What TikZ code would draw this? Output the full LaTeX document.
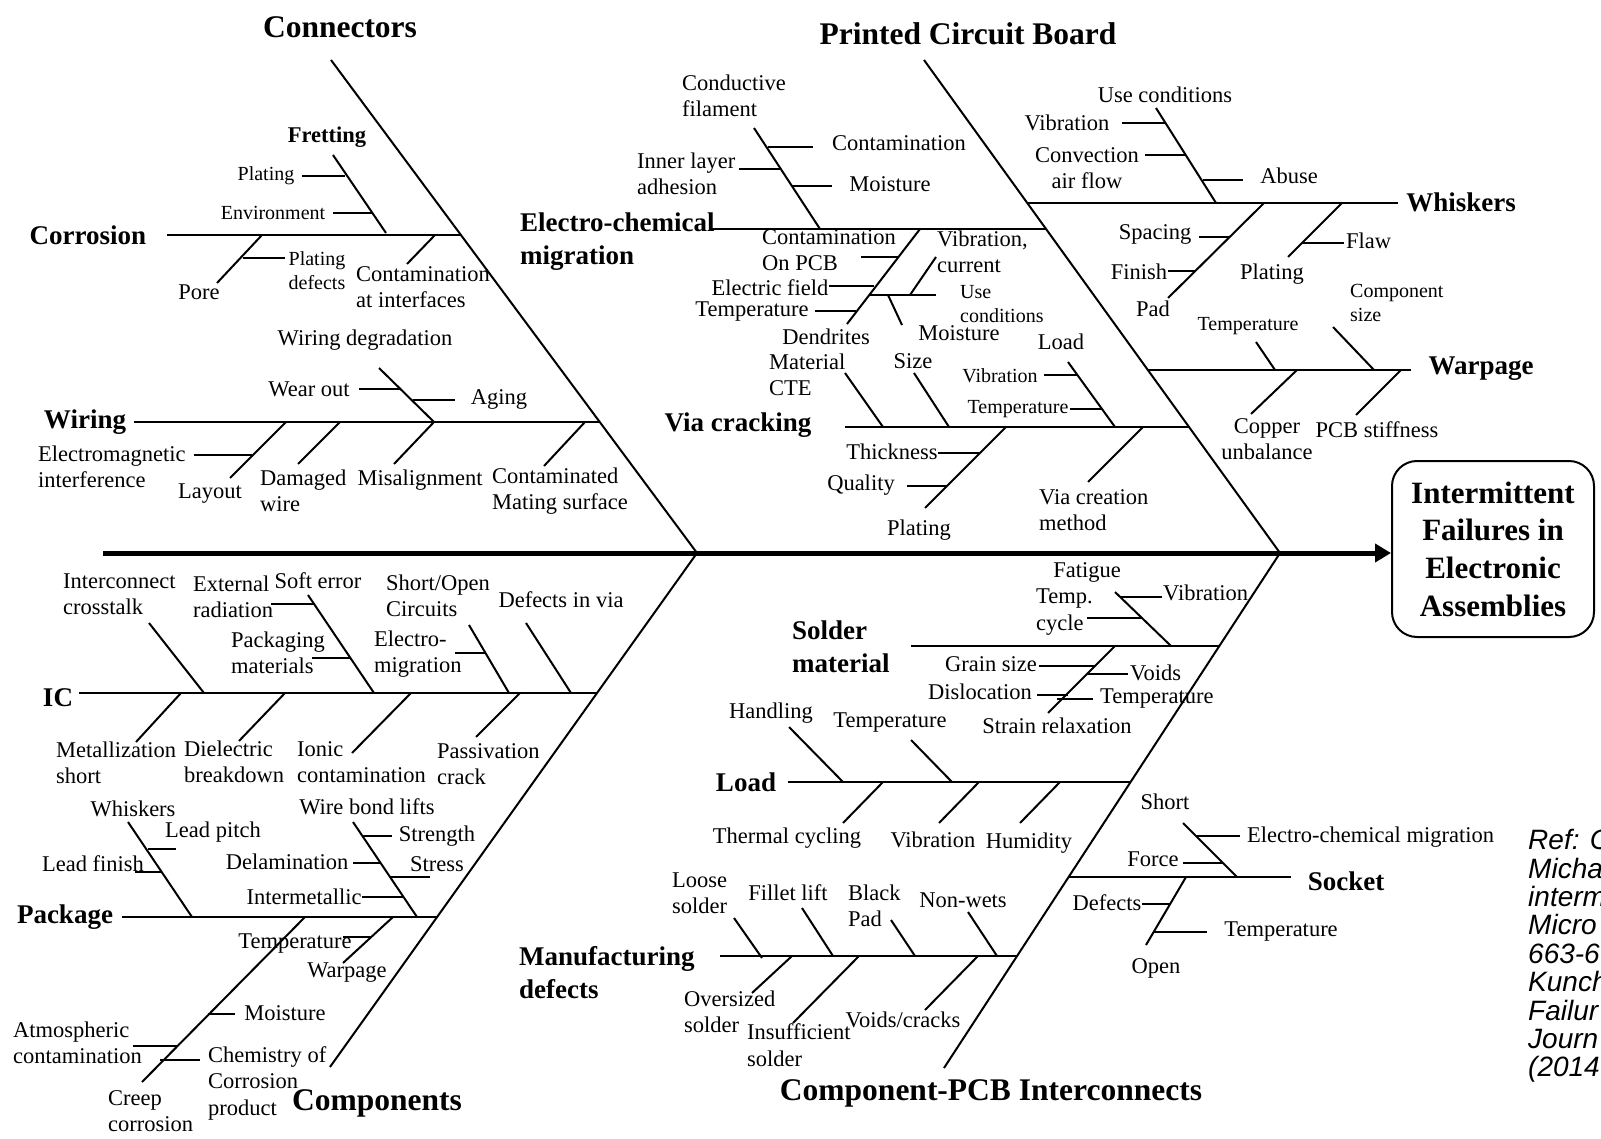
\documentclass[tikz,border=0pt]{standalone}
\usepackage{fontspec}
\setmainfont{Liberation Serif}
\newfontfamily\reffont{Liberation Sans}
\usetikzlibrary{arrows.meta}

\begin{document}
\begin{tikzpicture}[x=1pt,y=-1pt,
  bone/.style={line width=2pt},
  spine/.style={line width=5pt,-{Triangle[length=16pt,width=18pt]}},
  lbl/.style={inner sep=0pt,font=\fontsize{22.5}{26.5}\selectfont},
  sml/.style={inner sep=0pt,font=\fontsize{20}{24}\selectfont},
  grp/.style={inner sep=0pt,font=\fontsize{27}{33}\selectfont\bfseries},
  cat/.style={inner sep=0pt,font=\fontsize{31.5}{36}\selectfont\bfseries},
  effect/.style={draw,line width=2pt,rounded corners=25pt,minimum width=202pt,minimum height=176pt,align=center,font=\fontsize{31}{37.7}\selectfont\bfseries},
  refnote/.style={inner sep=0pt,align=left,font=\fontsize{28}{28.4}\selectfont\reffont\itshape}
]
\useasboundingbox (0,0) rectangle (1601,1139);
\clip (0,0) rectangle (1601,1139);
\coordinate (tail) at (103,553);
\coordinate (hubl) at (697,553);
\coordinate (hubr) at (1280,553);
\node[effect] (effect) at (1493,549) {Intermittent\\Failures in\\Electronic\\Assemblies};
\draw[spine] (tail) -- (tail -| effect.west);
\draw[bone] (331,60) -- (hubl) -- (330,1067);
\draw[bone] (924,60) -- (hubr) -- (944,1068);
\node[cat] (conn) at (340,27) {Connectors};
\node[cat] (pcb) at (968,34) {Printed Circuit Board};
\node[cat] (comp) at (377,1103) {Components};
\node[cat] (cpi) at (991,1093) {Component-PCB Interconnects};

\draw[bone] (167,235) -- (461,235);
\node[grp] (corr) at (88,235) {Corrosion};
\draw[bone] (333,155) -- (386,233);
\node[grp,font=\fontsize{22.5}{26}\selectfont\bfseries] (fret) at (327,137) {Fretting};
\draw[bone] (302,176) -- (345,176);
\node[sml] (fplat) at (266,176) {Plating};
\draw[bone] (333,213) -- (373,213);
\node[sml] (fenv) at (273,213) {Environment};
\draw[bone] (262,235) -- (217,283);
\node[lbl] (pore) at (199,292) {Pore};
\draw[bone] (243,258) -- (285,258);
\node[sml,align=center] (pdef) at (317,271) {Plating\\defects};
\draw[bone] (435,235) -- (407,264);
\node[lbl,anchor=west,align=left] (cint) at (356,287) {Contamination\\at interfaces};

\draw[bone] (134,422) -- (600,422);
\node[grp] (wiring) at (85,422) {Wiring};
\draw[bone] (379,368) -- (434,422);
\node[lbl] (wdeg) at (365,340) {Wiring degradation};
\draw[bone] (359,389) -- (400,389);
\node[lbl] (wear) at (309,389) {Wear out};
\draw[bone] (413,400) -- (455,400);
\node[lbl] (aging) at (499,399) {Aging};
\draw[bone] (286,422) -- (230,478);
\draw[bone] (194,455) -- (252,455);
\node[lbl,anchor=west,align=left] (emi) at (38,467) {Electromagnetic\\interference};
\node[lbl] (layout) at (210,494) {Layout};
\draw[bone] (340,422) -- (298,464);
\node[lbl,anchor=west,align=left] (dwire) at (260,491) {Damaged\\wire};
\draw[bone] (434,422) -- (394,464);
\node[lbl] (misal) at (420,480) {Misalignment};
\draw[bone] (585,422) -- (544,466);
\node[lbl,anchor=west,align=left] (cmate) at (492,491) {Contaminated\\Mating surface};

\draw[bone] (79,693) -- (597,693);
\node[grp] (ic) at (58,698) {IC};
\draw[bone] (149,623) -- (204,693);
\node[lbl,anchor=west,align=left] (xtalk) at (63,594) {Interconnect\\crosstalk};
\draw[bone] (308,595) -- (374,693);
\node[lbl] (soft) at (318,581) {Soft error};
\draw[bone] (271,604) -- (314,604);
\node[lbl,anchor=west,align=left] (extrad) at (193,597) {External\\radiation};
\draw[bone] (312,658) -- (350,658);
\node[lbl,anchor=west,align=left] (pkgmat) at (231,653) {Packaging\\materials};
\draw[bone] (469,625) -- (509,693);
\node[lbl,anchor=west,align=left] (shopen) at (386,596) {Short/Open\\Circuits};
\draw[bone] (455,653) -- (485,653);
\node[lbl,anchor=west,align=left] (emig) at (374,654) {Electro-\\migration};
\draw[bone] (526,623) -- (571,693);
\node[lbl] (dvia) at (561,600) {Defects in via};
\draw[bone] (181,693) -- (136,742);
\node[lbl,anchor=west,align=left] (metal) at (56,763) {Metallization\\short};
\draw[bone] (285,693) -- (239,741);
\node[lbl,anchor=west,align=left] (dielec) at (184,762) {Dielectric\\breakdown};
\draw[bone] (411,693) -- (352,753);
\node[lbl,anchor=west,align=left] (ionic) at (297,762) {Ionic\\contamination};
\draw[bone] (520,693) -- (476,737);
\node[lbl,anchor=west,align=left] (passiv) at (437,764) {Passivation\\crack};

\draw[bone] (122,917) -- (437,917);
\node[grp] (pkg) at (65,917) {Package};
\draw[bone] (128,822) -- (192,917);
\node[lbl] (pwhisk) at (133,809) {Whiskers};
\draw[bone] (148,849) -- (176,849);
\node[lbl] (lpitch) at (213,832) {Lead pitch};
\draw[bone] (135,872) -- (162,872);
\node[lbl] (lfinish) at (93,864) {Lead finish};
\draw[bone] (353,822) -- (417,917);
\node[lbl] (wbond) at (367,807) {Wire bond lifts};
\draw[bone] (363,836) -- (392,836);
\node[lbl] (strength) at (437,836) {Strength};
\draw[bone] (353,863) -- (381,863);
\node[lbl] (delam) at (287,862) {Delamination};
\draw[bone] (390,877) -- (430,877);
\node[lbl] (stress) at (437,864) {Stress};
\draw[bone] (362,897) -- (403,897);
\node[lbl] (imet) at (304,897) {Intermetallic};
\draw[bone] (393,917) -- (343,963);
\node[lbl] (pwarp) at (347,973) {Warpage};
\draw[bone] (343,937) -- (371,937);
\node[lbl] (ptemp) at (295,944) {Temperature};
\draw[bone] (305,917) -- (142,1082);
\node[lbl,anchor=west,align=left] (creep) at (108,1111) {Creep\\corrosion};
\draw[bone] (208,1014) -- (235,1014);
\node[lbl] (pmoist) at (285,1013) {Moisture};
\draw[bone] (133,1046) -- (178,1046);
\node[lbl,anchor=west,align=left] (atmos) at (13,1043) {Atmospheric\\contamination};
\draw[bone] (160,1060) -- (200,1060);
\node[lbl,anchor=west,align=left] (chem) at (208,1083) {Chemistry of\\Corrosion\\product};

\draw[bone] (711,229) -- (1046,229);
\node[grp,anchor=west,align=left] (ecm) at (520,242) {Electro-chemical\\migration};
\draw[bone] (754,128) -- (820,229);
\node[lbl,anchor=west,align=left] (cfil) at (682,96) {Conductive\\filament};
\draw[bone] (768,147) -- (813,147);
\node[lbl] (econt) at (899,143) {Contamination};
\draw[bone] (739,169) -- (781,169);
\node[lbl,anchor=west,align=left] (inner) at (637,174) {Inner layer\\adhesion};
\draw[bone] (792,186) -- (832,186);
\node[lbl] (emoist) at (890,184) {Moisture};
\draw[bone] (920,229) -- (847,324);
\node[lbl] (dendr) at (826,337) {Dendrites};
\draw[bone] (861,257) -- (898,257);
\node[lbl,anchor=west,align=left] (cpcb) at (762,250) {Contamination\\On PCB};
\draw[bone] (829,286) -- (874,286);
\node[lbl] (efield) at (770,288) {Electric field};
\draw[bone] (815,311) -- (856,311);
\node[lbl] (etemp) at (752,312) {Temperature};
\draw[bone] (869,295) -- (936,295);
\node[sml,anchor=west,align=left] (euse) at (960,304) {Use\\conditions};
\draw[bone] (936,257) -- (910,295);
\node[lbl,anchor=west,align=left] (vibcur) at (937,252) {Vibration,\\current};
\draw[bone] (888,295) -- (902,325);
\node[lbl] (emoist2) at (959,333) {Moisture};

\draw[bone] (845,427) -- (1190,427);
\node[grp] (via) at (738,425) {Via cracking};
\draw[bone] (845,373) -- (883,427);
\node[lbl,anchor=west,align=left] (mcte) at (769,375) {Material\\CTE};
\draw[bone] (914,373) -- (949,427);
\node[lbl] (vsize) at (913,361) {Size};
\draw[bone] (1068,362) -- (1115,427);
\node[lbl] (vload) at (1061,342) {Load};
\draw[bone] (1044,375) -- (1077,375);
\node[sml] (vvib) at (1000,376) {Vibration};
\draw[bone] (1070,409) -- (1102,409);
\node[sml] (vtemp) at (1018,409) {Temperature};
\draw[bone] (1006,427) -- (925,508);
\node[lbl] (vplat) at (919,530) {Plating};
\draw[bone] (938,453) -- (980,453);
\node[lbl] (thick) at (892,452) {Thickness};
\draw[bone] (907,486) -- (947,486);
\node[lbl] (qual) at (861,485) {Quality};
\draw[bone] (1143,427) -- (1088,482);
\node[lbl,anchor=west,align=left] (vcreat) at (1039,510) {Via creation\\method};

\draw[bone] (1027,203) -- (1398,203);
\node[grp] (whisk) at (1461,202) {Whiskers};
\draw[bone] (1156,108) -- (1216,203);
\node[lbl] (wuse) at (1165,95) {Use conditions};
\draw[bone] (1122,123) -- (1165,123);
\node[lbl] (wvib) at (1067,123) {Vibration};
\draw[bone] (1145,155) -- (1186,155);
\node[lbl,align=center] (conv) at (1087,168) {Convection\\air flow};
\draw[bone] (1203,180) -- (1243,180);
\node[lbl] (abuse) at (1289,176) {Abuse};
\draw[bone] (1264,203) -- (1168,298);
\node[lbl] (pad) at (1153,309) {Pad};
\draw[bone] (1199,237) -- (1229,237);
\node[lbl] (spacing) at (1155,234) {Spacing};
\draw[bone] (1168,271) -- (1196,271);
\node[lbl] (finish) at (1139,272) {Finish};
\draw[bone] (1342,203) -- (1288,257);
\node[lbl] (wplat) at (1272,274) {Plating};
\draw[bone] (1302,243) -- (1344,243);
\node[lbl,anchor=west] (flaw) at (1346,241) {Flaw};

\draw[bone] (1148,370) -- (1411,370);
\node[grp] (warp) at (1481,369) {Warpage};
\draw[bone] (1256,342) -- (1275,370);
\node[sml] (wtemp) at (1248,326) {Temperature};
\draw[bone] (1333,327) -- (1374,370);
\node[sml,anchor=west,align=left] (csize) at (1350,303) {Component\\size};
\draw[bone] (1297,370) -- (1251,414);
\node[lbl,align=center] (copper) at (1267,439) {Copper\\unbalance};
\draw[bone] (1401,370) -- (1356,415);
\node[lbl] (stiff) at (1377,430) {PCB stiffness};

\draw[bone] (911,646) -- (1219,646);
\node[grp,anchor=west,align=left] (solder) at (792,647) {Solder\\material};
\draw[bone] (1115,592) -- (1171,646);
\node[lbl] (fatig) at (1087,572) {Fatigue};
\draw[bone] (1120,597) -- (1162,597);
\node[lbl,anchor=west] (svib) at (1163,593) {Vibration};
\draw[bone] (1087,618) -- (1142,618);
\node[lbl,anchor=west,align=left] (tcyc) at (1036,612) {Temp.\\cycle};
\draw[bone] (1115,646) -- (1048,713);
\node[lbl] (strain) at (1057,726) {Strain relaxation};
\draw[bone] (1039,666) -- (1095,666);
\node[lbl] (grain) at (991,664) {Grain size};
\draw[bone] (1087,674) -- (1128,674);
\node[lbl,anchor=west] (voids) at (1130,673) {Voids};
\draw[bone] (1037,695) -- (1068,695);
\node[lbl] (disloc) at (980,692) {Dislocation};
\draw[bone] (1057,699) -- (1093,699);
\node[lbl,anchor=west] (stemp) at (1100,699) {Temperature};

\draw[bone] (788,782) -- (1131,782);
\node[grp] (load) at (746,782) {Load};
\draw[bone] (789,727) -- (843,782);
\node[lbl] (handl) at (771,713) {Handling};
\draw[bone] (911,740) -- (952,782);
\node[lbl] (ltemp) at (890,723) {Temperature};
\draw[bone] (883,782) -- (843,823);
\node[lbl] (thcyc) at (787,838) {Thermal cycling};
\draw[bone] (979,782) -- (939,823);
\node[lbl] (lvib) at (933,840) {Vibration};
\draw[bone] (1060,782) -- (1020,823);
\node[lbl] (humid) at (1029,843) {Humidity};

\draw[bone] (720,956) -- (1017,956);
\node[grp,anchor=west,align=left] (mfg) at (519,973) {Manufacturing\\defects};
\draw[bone] (734,918) -- (762,958);
\node[lbl,anchor=west,align=left] (loose) at (672,893) {Loose\\solder};
\draw[bone] (802,908) -- (833,956);
\node[lbl] (fillet) at (788,893) {Fillet lift};
\draw[bone] (891,920) -- (915,956);
\node[lbl,anchor=west,align=left] (bpad) at (848,906) {Black\\Pad};
\draw[bone] (968,912) -- (997,956);
\node[lbl] (nonwet) at (963,900) {Non-wets};
\draw[bone] (792,956) -- (752,993);
\node[lbl,anchor=west,align=left] (overs) at (684,1012) {Oversized\\solder};
\draw[bone] (859,956) -- (793,1023);
\node[lbl,anchor=west,align=left] (insuf) at (747,1045) {Insufficient\\solder};
\draw[bone] (978,956) -- (925,1010);
\node[lbl] (voidcr) at (903,1020) {Voids/cracks};

\draw[bone] (1069,877) -- (1291,877);
\node[grp] (socket) at (1346,881) {Socket};
\draw[bone] (1183,823) -- (1237,877);
\node[lbl] (sshort) at (1165,802) {Short};
\draw[bone] (1196,836) -- (1240,836);
\node[lbl,anchor=west] (secm) at (1247,837) {Electro-chemical migration};
\draw[bone] (1183,863) -- (1223,863);
\node[lbl] (force) at (1153,859) {Force};
\draw[bone] (1186,877) -- (1146,945);
\node[lbl] (sopen) at (1156,968) {Open};
\draw[bone] (1142,904) -- (1170,904);
\node[lbl] (sdef) at (1107,903) {Defects};
\draw[bone] (1154,932) -- (1207,932);
\node[lbl] (stemp2) at (1281,932) {Temperature};

\node[refnote,anchor=west] (ref) at (1528,956) {Ref: C\\Micha\\interm\\Micro\\663-6\\Kunch\\Failur\\Journ\\(2014};
\end{tikzpicture}
\end{document}
